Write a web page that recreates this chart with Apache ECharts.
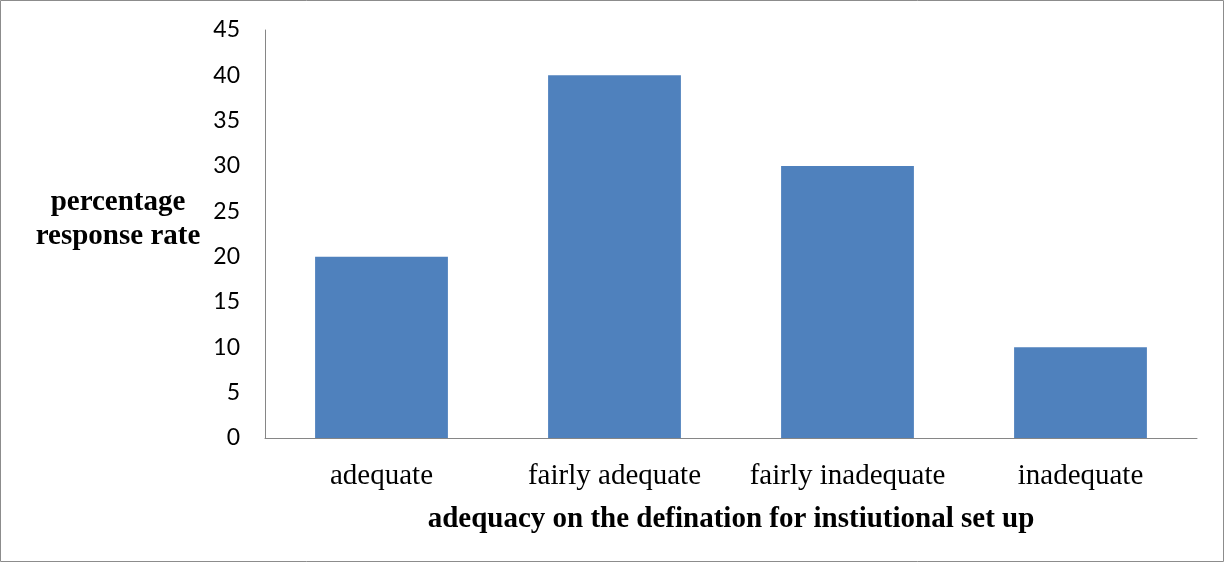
<!DOCTYPE html>
<html>
<head>
<meta charset="utf-8">
<script src="https://cdn.jsdelivr.net/npm/echarts@6/dist/echarts.min.js"></script>
<style>
  html, body { margin: 0; padding: 0; background: #fff; }
  #chart { width: 1225px; height: 563px; }
</style>
</head>
<body>
<div id="chart"></div>
<script>
// categories and values
const categories = ["adequate", "fairly adequate", "fairly inadequate", "inadequate"];
const responseRate = [20, 40, 30, 10];
const yTitleLines = ["percentage", "response rate"];

const chart = echarts.init(document.getElementById("chart"));

const serifBold = {
  fontFamily: "Liberation Serif",
  fontWeight: "bold",
  fontSize: 29,
  fill: "#000",
  align: "center",
  verticalAlign: "middle"
};

const option = {
  animation: false,
  grid: { left: 265, right: 28, top: 30, bottom: 125 },
  // outer frame and y axis title (two centred lines)
  graphic: [
    {
      type: "rect",
      shape: { x: 0.5, y: 0.5, width: 1223, height: 561 },
      style: { fill: "none", stroke: "#8c8c8c", lineWidth: 1 },
      silent: true
    },
    {
      type: "text",
      style: Object.assign({ text: yTitleLines[0], x: 118, y: 203 }, serifBold)
    },
    {
      type: "text",
      style: Object.assign({ text: yTitleLines[1], x: 118, y: 237 }, serifBold)
    }
  ],
  xAxis: {
    type: "category",
    data: categories,
    name: "adequacy on the defination for instiutional set up",
    nameLocation: "middle",
    nameGap: 67,
    nameTextStyle: {
      fontFamily: "Liberation Serif",
      fontWeight: "bold",
      fontSize: 29,
      color: "#000",
      verticalAlign: "top"
    },
    axisLine: { lineStyle: { color: "#868686", width: 1 } },
    axisTick: { show: false },
    axisLabel: {
      interval: 0,
      hideOverlap: false,
      margin: 24,
      fontFamily: "Liberation Serif",
      fontSize: 29,
      color: "#000"
    }
  },
  yAxis: {
    type: "value",
    min: 0,
    max: 45,
    interval: 5,
    axisLine: { show: true, lineStyle: { color: "#868686", width: 1 } },
    axisTick: { show: false },
    splitLine: { show: false },
    axisLabel: {
      margin: 25,
      fontFamily: "Lato",
      fontSize: 23,
      color: "#000"
    }
  },
  series: [
    {
      type: "bar",
      data: responseRate,
      barCategoryGap: "43%",
      itemStyle: { color: "#4f81bd" }
    }
  ]
};

chart.setOption(option);
</script>
</body>
</html>
